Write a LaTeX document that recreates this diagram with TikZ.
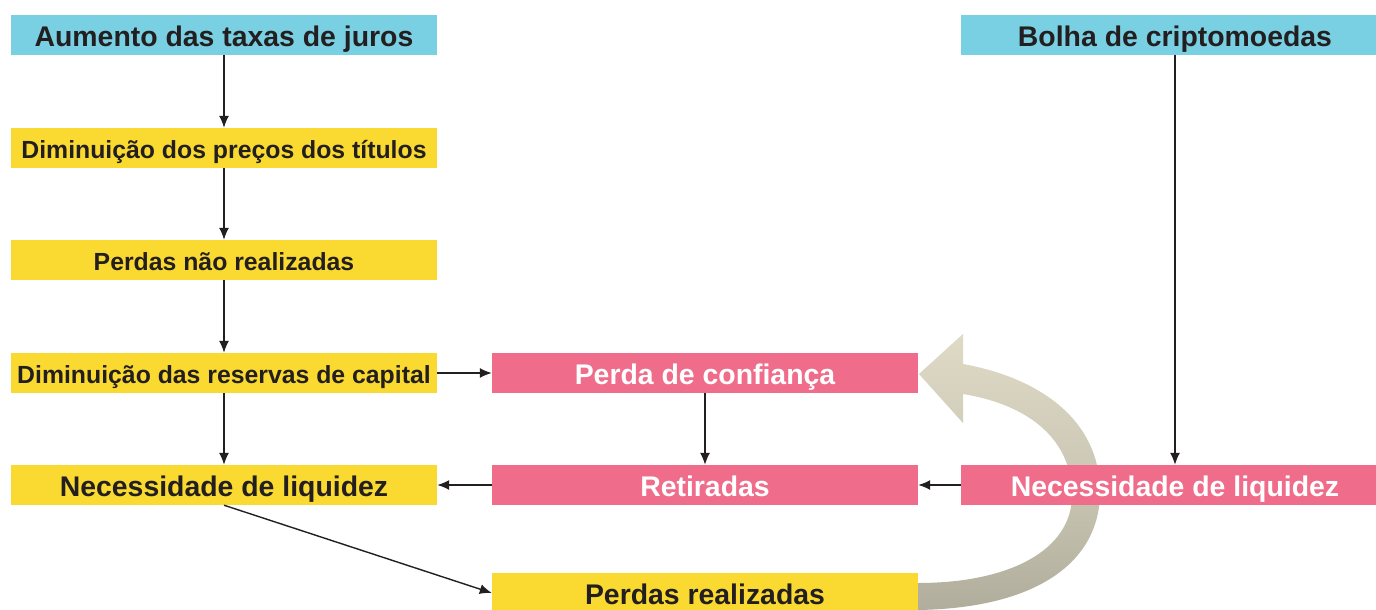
\documentclass[tikz,border=0pt]{standalone}
\usepackage{fontspec}
\setmainfont{Liberation Sans}
\usetikzlibrary{arrows.meta}
\definecolor{cyanbox}{HTML}{7AD0E3}
\definecolor{yelbox}{HTML}{FADA30}
\definecolor{pinkbox}{HTML}{EF6D8B}
\definecolor{txt}{HTML}{231F20}
\definecolor{arrlight}{HTML}{DEDAC6}
\definecolor{arrdark}{HTML}{B0AD9C}
\tikzset{
  box/.style={rectangle, inner sep=0pt, minimum width=426pt, minimum height=40pt, font=\bfseries\fontsize{28.4}{32}\selectfont, text=txt, text height=26pt, text depth=3.6pt},
  smalltxt/.style={font=\bfseries\fontsize{24.8}{28}\selectfont, text height=23pt, text depth=2.2pt},
  cy/.style={box, fill=cyanbox},
  ye/.style={box, fill=yelbox},
  pk/.style={box, fill=pinkbox, text=white},
  conn/.style={draw=txt, line width=1.4pt, -{Latex[length=12pt,width=10pt]}}
}
\begin{document}
\begin{tikzpicture}[x=1pt,y=-1pt]
\clip (0,0) rectangle (1376,610);
\fill[white] (0,0) rectangle (1376,610);
% big curved arrow
\shade[top color=arrlight, bottom color=arrdark, middle color=arrlight!60!arrdark]
  (918,610) .. controls (1040,608) and (1100,560) .. (1100,492)
  .. controls (1100,420) and (1040,378) .. (963,364)
  -- (963,334) -- (919,374) -- (963,423) -- (963,394)
  .. controls (1030,405) and (1072,440) .. (1072,495)
  .. controls (1072,550) and (1010,583) .. (918,583) -- cycle;
% left column
\node[cy] (a) at (224,35) {Aumento das taxas de juros};
\node[ye, smalltxt] (b) at (224,148) {Diminuição dos preços dos títulos};
\node[ye, smalltxt] (c) at (224,260) {Perdas não realizadas};
\node[ye, smalltxt] (d) at (224,373) {Diminuição das reservas de capital};
\node[ye] (e) at (224,485) {Necessidade de liquidez};
% middle column
\node[pk] (f) at (705,373) {Perda de confiança};
\node[pk] (g) at (705,485) {Retiradas};
\node[ye] (h) at (705,593) {Perdas realizadas};
% right column
\node[cy, minimum width=428pt] (i) at (1175,35) {Bolha de criptomoedas};
\node[pk, minimum width=428pt] (j) at (1175,485) {Necessidade de liquidez};
% connectors
\draw[conn] (a) -- (b);
\draw[conn] (b) -- (c);
\draw[conn] (c) -- (d);
\draw[conn] (d) -- (e);
\draw[conn] (d) -- (f);
\draw[conn] (f) -- (g);
\draw[conn] (g) -- (e);
\draw[conn] (j) -- (g);
\draw[conn] (i) -- (j);
\draw[conn] (e.south) -- (h.west);
\end{tikzpicture}
\end{document}
